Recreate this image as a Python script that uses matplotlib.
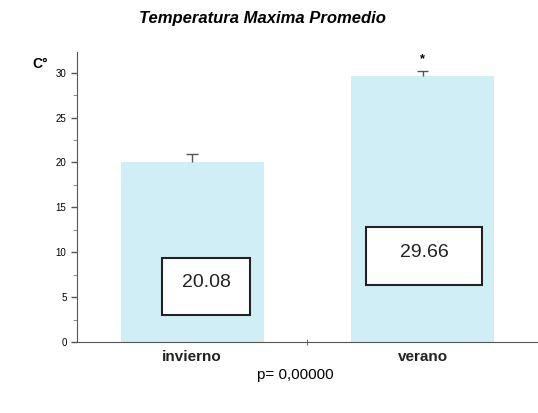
import matplotlib
matplotlib.use("Agg")
import matplotlib.pyplot as plt
from matplotlib.patches import Rectangle

plt.rcParams["font.family"] = ["Liberation Sans", "DejaVu Sans"]

categorias = ["invierno", "verano"]
promedios = [20.08, 29.66]
errores = [0.9, 0.5]
etiquetas = ["20.08", "29.66"]
# value boxes: (center x, width, bottom, top) in data units
cajas = [(0.06, 0.38, 3.0, 9.4), (1.005, 0.505, 6.4, 12.8)]

fig = plt.figure(figsize=(5.38, 4.13), dpi=100)
ax = fig.add_axes([0.143, 0.172, 0.857, 0.702])

x = list(range(len(categorias)))
ax.bar(x, promedios, width=0.62, color="#cfeef5", edgecolor="none", zorder=1)

# upper-only error bars
for xi, m, e in zip(x, promedios, errores):
    ax.vlines(xi, m, m + e, color="#555555", lw=1, zorder=2)
    ax.hlines(m + e, xi - 0.025, xi + 0.025, color="#555555", lw=1, zorder=2)

# boxes with the value written inside
for (cx, w, b, t), lab in zip(cajas, etiquetas):
    ax.add_patch(Rectangle((cx - w / 2, b), w, t - b,
                           facecolor="white", edgecolor="#222222", lw=1.5, zorder=3))
    ax.text(cx, (b + t) / 2 + 0.4, lab, ha="center", va="center",
            fontsize=14, color="#222222", zorder=4)

ax.text(1, promedios[1] + errores[1] + 1.4, "*", ha="center", va="center",
        fontsize=9, fontweight="bold")

ax.set_xlim(-0.5, 1.5)
ax.set_ylim(0, 32.3)
ax.set_yticks(range(0, 31, 5))
ax.set_yticks([i + 2.5 for i in range(0, 30, 5)], minor=True)
ax.tick_params(axis="y", labelsize=7, length=4, width=1, color="#555555", direction="out")
ax.tick_params(axis="y", which="minor", length=3, color="#777777")
ax.set_xticks(x)
ax.set_xticklabels(categorias, fontsize=11, fontweight="bold", color="#222222")
ax.tick_params(axis="x", length=0, pad=6)
ax.set_xticks([0.5], minor=True)
ax.tick_params(axis="x", which="minor", length=4, direction="inout", color="#555555")

for s in ["top", "right"]:
    ax.spines[s].set_visible(False)
ax.spines["left"].set_color("#555555")
ax.spines["bottom"].set_color("#555555")

fig.text(0.06, 0.835, "C°", fontsize=10, fontweight="bold")
fig.text(0.487, 0.955, "Temperatura Maxima Promedio", ha="center", va="center",
         fontsize=12, fontweight="bold", style="italic")
fig.text(0.548, 0.092, "p= 0,00000", ha="center", va="center", fontsize=11)

fig.savefig("out.png", dpi=100)
